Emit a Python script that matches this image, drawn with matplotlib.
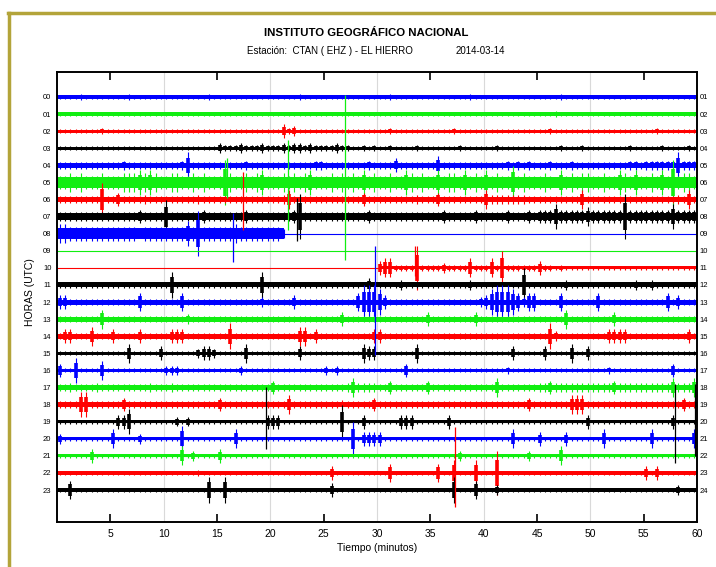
import numpy as np
import matplotlib
matplotlib.use("Agg")
import matplotlib.pyplot as plt
from matplotlib.lines import Line2D

# ---------------- data ----------------
TITLE = "INSTITUTO GEOGRÁFICO NACIONAL"
SUBTITLE = "Estación:  CTAN ( EHZ ) - EL HIERRO"
DATE = "2014-03-14"
XLABEL = "Tiempo (minutos)"
YLABEL = "HORAS (UTC)"

LEFT_LABELS = ["00", "01", "02", "03", "04", "05", "06", "07", "08", "09", "10", "11",
               "12", "13", "14", "15", "16", "17", "18", "19", "20", "21", "22", "23"]
RIGHT_LABELS = ["01", "02", "03", "04", "05", "06", "07", "08", "09", "10", "11", "12",
                "13", "14", "15", "16", "17", "18", "19", "20", "21", "22", "23", "24"]
MAJOR_TICKS = [10, 20, 30, 40, 50, 60]
MINOR_TICKS = [5, 15, 25, 35, 45, 55]

TRACE_COLORS = ["#0000ff", "#11ee11", "#ff0000", "#000000"]

# amplitude (in trace spacings) for each envelope level 0..9
LEVELS = [0.0, 0.08, 0.12, 0.19, 0.28, 0.40, 0.55, 0.75, 0.98, 1.30]

# envelope level every 0.5 minute (groups of 5 minutes), one string per hour
TRACES = [
    "2222322222 2223222222 2222222232 2222222222 2222232222 2222222222 2232222222 2222222322 2222222222 2222322222 2222222222 2222222222",  # 00
    "2222222222 2222222222 2222222222 2222222222 2222222222 2222222222 2222222222 2222222222 2222222222 2223222222 2222222222 2222222222",  # 01
    "2222222232 2222222222 2222222222 2222222222 2253422222 2222222222 2232222222 2222322222 2222222222 2232222222 2222222222 2232222222",  # 02
    "2222222222 2222222222 2222222222 4333433343 3343443433 3343322323 2232222322 2222232222 2232222222 2222322232 2222222322 2223222232",  # 03
    "3333333333 3343333333 3334733333 3333343333 3333333344 3333333343 3335333333 3633333333 3333434343 3343334333 3333333443 4444447444",  # 04
    "5565655565 5566676765 5665565655 5965565675 5565656755 5656565756 5565576565 5756657565 7565585655 5654756566 5565576575 5657595665",  # 05
    "3333333383 3533334333 3333334333 3333333333 3346333333 3333333533 3333333433 3533333333 6444444433 3333333363 3333333333 3333334363",  # 06
    "4444444444 4444454444 8444444544 4444454444 4444594444 4444444454 4444444444 4454444454 4444544454 5557555556 5555559555 5555575555",  # 07
    "6655555555 5555545555 5555759555 5556555555 5540000000 0000000000 0000000000 0000000000 0000000000 0000000000 0000000000 0000000000",  # 08
    "0000000000 0000000000 0000000000 0000000000 0000000000 0000000000 0000000000 0000000000 0000000000 0000000000 0000000000 0000000000",  # 09
    "0000000000 0000000000 0000000000 0000000000 0000000000 0000000000 5663333933 3343333633 3638333333 5332322222 2222222222 2222222222",  # 10
    "3333333333 3333333333 3733333333 3333333373 3333333333 3333333353 3333433333 3333333433 3333333833 3333343333 3333333343 3433333333",  # 11
    "5533333333 3333363333 3336333333 3333333343 3333533333 3333336888 7533333333 3333333334 5788876466 3333633333 3633333333 3333635333",  # 12
    "3333333363 3333333333 3333433333 3333333333 3333333333 3335333333 3333333335 3333333353 3333333333 3333363333 3333533333 3333333333",  # 13
    "3553336333 5333353333 3555333333 3373333333 3333366353 3333333335 5333333333 3333333333 3333333333 3374333333 3335555333 3333333353",  # 14
    "2222222222 2226222225 2222224554 2222262222 2222252222 2222222655 2222222622 2222222222 2222252222 2522226225 2222222222 2222222222",  # 15
    "5227222262 2222222222 4442222222 2222422222 2222222222 4242222222 2222252222 2222222222 2222322222 2222222222 2223222222 2222252222",  # 16
    "3343333433 3333333433 3433333333 3333333333 5333333333 3333464444 3353333335 3333333333 3363333333 4454444444 4444544444 4444464446",  # 17
    "3333773333 3353333333 3333333333 5333333333 3336333333 3334333335 3333333333 3333333333 3333333353 3333336663 3333333333 3333333533",  # 18
    "2222222222 2557222222 2242422222 2222222225 5522222222 2228222522 2222555222 2225222222 2222222222 2222222225 2222222222 2222252222",  # 19
    "4222222222 6222242222 2227222222 2226222222 2222222222 2222282555 5222222222 2222222222 2222262222 5222252222 2262222222 2622222226",  # 20
    "2222225222 2222222222 2226242222 5222222222 2222222222 2222222222 2222222222 2222242222 2222222242 2222622222 2222222222 2222222222",  # 21
    "2222222222 2222222222 2222223222 2222222222 2222222222 2522222222 2262222222 2622722272 2292222222 2222222222 2222222222 5252222222",  # 22
    "2262222222 2222222222 2222222272 2722222222 2222222222 2522222222 2222222222 2222722262 2242222222 2222222222 2222222222 2222224222",  # 23
]

# large isolated spikes: hour, minute, reach upward, reach downward (trace spacings)
SPIKE_HOUR = [5, 5, 5, 6, 7, 8, 10, 12, 19, 19, 19, 22]
SPIKE_MIN = [27.0, 21.7, 15.9, 17.4, 22.5, 16.5, 33.6, 29.8, 19.6, 57.9, 59.8, 37.3]
SPIKE_UP = [5.1, 2.5, 1.45, 1.6, 1.1, 1.2, 1.25, 3.3, 2.0, 2.2, 2.2, 2.7]
SPIKE_DOWN = [4.55, 2.8, 0.9, 1.8, 1.4, 1.65, 0.5, 3.1, 1.6, 2.4, 2.0, 2.0]

# ---------------- figure ----------------
plt.rcParams["font.family"] = ["Liberation Sans Narrow", "Liberation Sans", "DejaVu Sans"]

W, H = 716, 567
fig = plt.figure(figsize=(W / 100, H / 100), dpi=100)
ax = fig.add_axes([57 / W, 1 - 522 / H, 640 / W, 450 / H])

n_samp = len(TRACES[0].replace(" ", ""))
xc = (np.arange(n_samp) + 0.5) * 60.0 / n_samp
lev_arr = np.array(LEVELS)

for h, s in enumerate(TRACES):
    c = TRACE_COLORS[h % 4]
    lv = np.array([int(ch) for ch in s.replace(" ", "")])
    a = lev_arr[lv]
    z = 2 + h * 0.01
    # base line (also the flat segments where there is no signal)
    ax.plot([0, 60], [h, h], color=c, lw=0.8, zorder=z, solid_capstyle="butt")
    mask = lv > 0
    if not mask.any():
        continue
    lmode = np.bincount(lv[mask]).argmax()
    core = np.full(n_samp, LEVELS[lmode] * 0.78)
    xx = np.r_[0.0, xc, 60.0]
    cc = np.r_[core[0], core, core[-1]]
    mm = np.r_[mask[0], mask, mask[-1]]
    ax.fill_between(xx, h - cc, h + cc, where=mm, step="mid",
                    color=c, lw=0, zorder=z)
    # fine texture: every sample reaches its full envelope
    ax.vlines(xc[mask], h - a[mask], h + a[mask], color=c, lw=0.8, zorder=z)
    # burst bodies (thick, short)
    ev = lv > lmode
    ax.vlines(xc[ev], h - 0.6 * a[ev], h + 0.6 * a[ev], color=c, lw=2.6, zorder=z)

for hh, mn, up, dn in zip(SPIKE_HOUR, SPIKE_MIN, SPIKE_UP, SPIKE_DOWN):
    ax.vlines(mn, hh - up, hh + dn, color=TRACE_COLORS[hh % 4], lw=0.9, zorder=3)

ax.set_xlim(0, 60)
ax.set_ylim(24.87, -1.46)

ax.set_xticks(MAJOR_TICKS, labels=[str(t) for t in MAJOR_TICKS])
ax.set_xticks(MINOR_TICKS, labels=[str(t) for t in MINOR_TICKS], minor=True)
ax.tick_params(axis="x", which="major", length=0, pad=5, labelsize=7.5)
ax.tick_params(axis="x", which="minor", direction="in", length=6, width=1.2,
               top=True, bottom=True, pad=5, labelsize=7.5)
ax.grid(axis="x", which="major", color="#d9d9d9", lw=0.8, zorder=0)
ax.set_axisbelow(True)

ax.set_yticks(range(24), labels=LEFT_LABELS)
ax.tick_params(axis="y", length=0, pad=4, labelsize=5.5)
ax2 = ax.twinx()
ax2.set_ylim(ax.get_ylim())
ax2.set_yticks(range(24), labels=RIGHT_LABELS)
ax2.tick_params(axis="y", length=0, pad=2, labelsize=5.5)

for a_ in (ax, ax2):
    for sp in a_.spines.values():
        sp.set_linewidth(1.2)
        sp.set_color("black")

ax.set_xlabel(XLABEL, fontsize=7.5, labelpad=3)
fig.text(30 / W, 1 - 292 / H, YLABEL, rotation=90, ha="center", va="center", fontsize=7.5)

fig.text(366 / W, 1 - 33 / H, TITLE, ha="center", va="center", fontsize=8.2, fontweight="bold")
fig.text(330 / W, 1 - 51 / H, SUBTITLE, ha="center", va="center", fontsize=7)
fig.text(480 / W, 1 - 51 / H, DATE, ha="center", va="center", fontsize=7)

# olive outer frame
olive = "#b3a43a"
fig.add_artist(Line2D([9 / W, 9 / W], [0, 1 - 13 / H], color=olive, lw=2.5, transform=fig.transFigure))
fig.add_artist(Line2D([8 / W, 1], [1 - 13 / H, 1 - 13 / H], color=olive, lw=2.5, transform=fig.transFigure))

fig.savefig("out.png", dpi=100)
